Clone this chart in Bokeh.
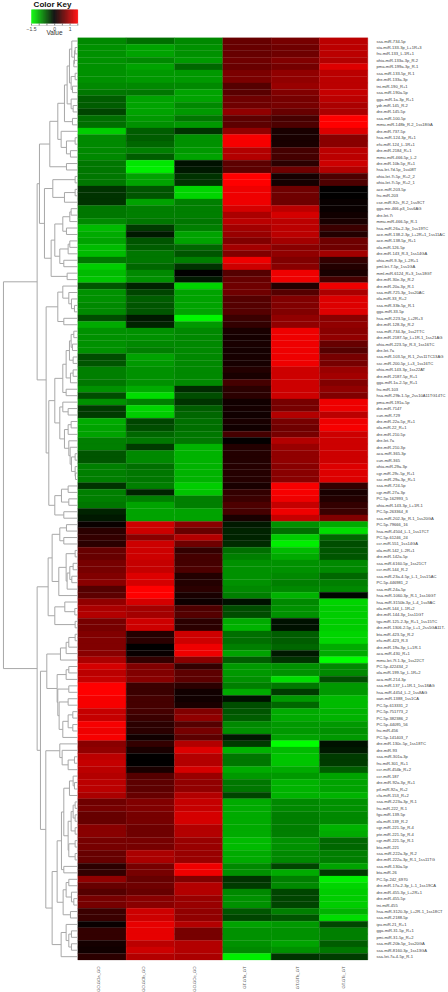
from bokeh.plotting import figure
from bokeh.models import Range1d, ColumnDataSource, LinearColorMapper
from bokeh.transform import transform
from bokeh.core.properties import value
from bokeh.embed import file_html
from bokeh.resources import INLINE

row_labels = """ssa-miR-734-5p
sta-miR-133-3p_L+1R+3
fru-miR-133_L-1R+1
ohia-miR-133a-3p_R-2
pma-miR-199a-3p_R-1
ssa-miR-133-5p_R-1
dre-miR-133a-3p
tni-miR-190_R+1
ssa-miR-190a-5p
gga-miR-1a-3p_R+1
ydr-miR-145_R-2
dre-miR-145-5p
ssa-miR-100-5p
mmu-miR-148b_R-2_1ss18GA
dre-miR-737-5p
hsa-miR-124-3p_R+1
efu-miR-124_L-1R+1
dre-miR-2184_R+1
mmu-miR-466-5p_L-2
dre-miR-10b-5p_R+1
hsa-let-7d-5p_1ss08T
ohia-let-7i-5p_R+2_2
ohia-let-7i-5p_R+2_1
ace-miR-203-5p
fru-miR-203
cse-miR-92c_R-2_1ss9CT
gga-mir-466-p3_1ss6AG
dre-let-7i
mmu-miR-466-5p_R-1
hsa-miR-26a-2-3p_1ss19TC
ace-miR-138-2-3p_L+2R+1_1ss11AC
ace-miR-138-5p_R+1
ola-miR-126-5p
dre-miR-143_R-3_1ss14GA
ohia-miR-9-3p_L-2R+1
pml-let-7-5p_1ss1GA
mml-miR-6124_R+3_1ss18GT
dre-miR-30e-3p_R-2
dre-miR-20a-3p_R-1
ssa-miR-725-3p_1ss20AC
ola-miR-33_R+2
ssa-miR-33b-5p_R-1
gga-miR-33-5p
hsa-miR-223-5p_L+2R+3
dre-miR-128-3p_R-2
ssa-miR-734-3p_1ss2TTC
dre-miR-2187-5p_L+1R-1_1ss21AG
ohia-miR-223-5p_R-3_1ss16TC
dre-let-7a
ssa-miR-103-5p_R-1_2ss11TC13AG
ssc-miR-200-5p_L+3_1ss16TC
ohia-miR-143-3p_1ss22AT
dre-miR-2187-5p_R+1
gga-miR-1a-2-5p_R+1
fru-miR-103
hsa-miR-29b-1-5p_2ss10A11TG14TC
pma-miR-191a-5p
dre-miR-7147
cun-miR-729
dre-miR-22a-5p_R+1
ola-miR-22_R+1
dre-miR-210-5p
dre-let-7a
dre-miR-210-3p
aca-miR-365-3p
cun-miR-365
ohia-miR-29a-3p
cgr-miR-29c-5p_R+1
ssc-miR-29a-3p_R+1
ssa-miR-724-5p
cgr-miR-27a-3p
PC-5p-162993_5
ohia-miR-143-3p_L+1R-1
PC-5p-263364_8
ssa-miR-202-3p_R-1_1ss20GA
PC-5p-79666_16
hsa-miR-4504_L-1_1ss17CT
PC-5p-61246_24
ccr-miR-551_1ss14GA
ola-miR-142_L-2R+1
dre-miR-142a-5p
ssa-miR-6160-5p_1ss21CT
ccr-miR-144_R-2
ssa-miR-23a-4-5p_L-1_1ss15AC
PC-5p-446981_2
ssa-miR-24a-5p
hsa-miR-1060-3p_R-1_1ss16GT
hsa-miR-3150b-3p_L-4_1ss9AC
ola-miR-144_L-1R+2
dre-miR-144-3p_1ss11GT
tgu-miR-125-2-3p_R+1_1ss15TC
dre-miR-1306-2-5p_L+1_2ss5GA11T-
bta-miR-423-5p_R-2
efu-miR-423_R-3
dre-miR-19a-3p_L+1R-1
aca-miR-430_R+1
mmu-let-7f-1-3p_1ss22CT
PC-5p-422434_2
ola-miR-199-5p_L-1R+2
aca-miR-214-3p
ssa-miR-137_L+1R-1_1ss18AG
hsa-miR-4454_L-2_1ss8AG
oan-miR-1388_1ss1CA
PC-5p-613331_2
PC-5p-751773_2
PC-5p-382386_2
PC-5p-44095_56
fru-miR-456
PC-5p-141403_7
dre-miR-130c-5p_1ss18TC
dre-miR-93
ssa-miR-301a-3p
fru-miR-301_R+1
ccr-miR-454b_R+2
ccr-miR-187
dre-miR-92a-3p_R+1
ptl-miR-92a_R+2
cfa-miR-153_R+2
ssa-miR-223a-3p_R-1
fru-miR-222_R-1
fgu-miR-139-5p
ola-miR-139_R-2
cgr-miR-221-5p_R-4
pte-miR-221-5p_R-4
cgr-miR-221-5p_R-1
bta-miR-221
ssa-miR-222a-3p_R-2
dre-miR-222a-3p_R-1_1ss11TG
ssa-miR-130a-5p
bta-miR-26
PC-5p-242_6970
dre-miR-17a-2-3p_L-1_1ss19CA
dre-miR-455-3p_L+2R+1
dre-miR-455-5p
tni-miR-455
hsa-miR-3120-3p_L+2R-1_1ss18CT
ssa-miR-2188-5p
ipu-miR-21_R+1
gga-miR-31-5p_R+1
pmi-miR-31-5p_R+2
ssa-miR-20b-5p_1ss20GA
ssa-miR-8160-3p_1ss13GA
ssa-let-7a-4-5p_R-1""".split("\n")

sample_labels = ["GO.GOa_GO", "GO.GOb_GO", "GO.GOc_GO", "GT.GTa_GT", "GT.GTb_GT", "GT.GTc_GT"]
sample_label_px = [98, 143, 194, 244, 297, 343]

expression = [
[-.8,-.65,-.8,.6,.7,1.1],[-.85,-.95,-.85,.6,.65,1.1],[-.85,-.95,-.85,.6,.65,1.1],[-.85,-.8,-.9,.65,.75,1.05],
[-.85,-.95,-.6,.62,.68,1.3],[-.85,-.9,-.9,.72,.85,1.1],[-.85,-.9,-.9,.72,.85,1.1],[-.8,-.8,-.8,.5,.9,1.1],
[-.7,-.7,-.95,.52,.75,1.15],[-.55,-.95,-.95,.65,.7,1.1],[-.55,-.95,-.8,.65,.7,1.0],[-.4,-.95,-.9,.85,.6,1.0],
[-.65,-.9,-.7,.55,.42,1.5],[-.65,-.85,-.9,.55,.45,1.5],[-1.2,-.55,-.3,.85,.15,1.3],[-.8,-.55,-.85,1.45,.15,.8],
[-.8,-.6,-.85,1.45,.15,.8],[-.8,-.75,-.9,1.05,.4,1.1],[-.8,-.55,-.95,1.05,.4,1.1],[-.7,-1.35,-.1,.55,.25,1.2],
[-.7,-1.4,-.15,.55,.65,1.05],[-.7,-.95,-.3,1.5,.12,.45],[-.7,-.95,-.3,1.5,.12,.45],[-.3,-.5,-1.25,1.4,.65,.0],
[-.3,-.5,-1.25,1.4,.65,.0],[-.3,-.95,-.75,1.4,.65,.05],[-.7,-.75,-.75,1.25,1.1,.05],[-.7,-.75,-.75,1.0,1.25,.1],
[-.8,-.7,-.7,1.1,1.1,.15],[-1.1,-.35,-.75,.95,1.1,.35],[-1.0,-.15,-.95,.9,1.1,.2],[-.95,-.5,-.95,.75,.95,.65],
[-1.1,-.55,-.6,.95,.8,.65],[-1.1,-.7,-.5,.75,.85,.95],[-.7,-.7,-.75,1.4,.75,.3],[-1.2,-.6,-.3,1.2,.8,.2],
[-1.1,-.8,0,.5,1.4,.15],[-1.15,-.85,-.15,.6,1.4,.4],[-.5,-.2,-1.25,.65,.2,1.4],[-.85,-.4,-.95,.65,.5,1.0],
[-.85,-.55,-.95,.5,.75,1.3],[-.8,-.5,-.95,.5,.75,1.3],[-.8,-.5,-.95,.5,.75,1.3],[-.45,-.15,-1.45,.35,.85,.8],
[-1.0,-.2,-.9,.3,.85,.85],[-.85,-.85,-.8,.15,1.4,.8],[-.85,-.85,-.8,.12,1.4,.85],[-.85,-.8,-.8,.15,1.4,.6],
[-.85,-.75,-.8,.12,1.4,.5],[-.45,-.95,-.8,.13,1.4,.7],[-.5,-.9,-.8,.13,1.4,.7],[-.75,-.85,-.8,.2,1.2,.9],
[-.75,-.85,-.8,.15,1.2,.95],[-.7,-.85,-.8,.4,1.2,.75],[-.85,-1.0,-.25,.25,1.2,.85],[-.45,-1.3,-.45,.25,1.2,.75],
[-.85,-.75,-.3,.1,.7,1.4],[-.35,-1.25,-.55,.12,.7,1.4],[-.35,-1.2,-.6,.1,1.05,1.1],[-1.0,-.4,-.65,.15,.7,1.4],
[-.95,-.45,-.65,.1,.65,1.45],[-.95,-.6,-.7,.4,.7,1.2],[-.75,-.7,-.7,.02,1.05,1.2],[-.75,-.35,-1.05,.2,.9,1.2],
[-.5,-.8,-1.05,.2,.85,1.2],[-.5,-.8,-1.05,.2,.85,1.2],[-.75,-.65,-1.05,.22,.8,1.3],[-.75,-.7,-1.05,.22,.8,1.3],
[-.75,-.7,-1.05,.22,.8,1.3],[-.3,-.75,-1.2,.15,1.45,.3],[-.75,-.2,-1.15,.3,1.45,.15],[-.75,-.75,-.75,.35,1.4,.2],
[-.7,-.95,-.75,.45,1.15,.3],[-.2,-.95,-.95,.4,1.4,.35],[-.15,-.95,-.95,.15,1.15,.75],[.05,1.2,.8,-.15,-.85,-1.0],
[.25,1.2,.6,-.2,-.65,-1.3],[.3,.8,1.05,-.2,-1.2,-.6],[.25,1.2,.65,-.25,-1.4,-.45],[.6,1.2,.3,-.65,-1.1,-.5],
[.6,1.2,.4,-.75,-1.0,-.5],[.7,1.15,.4,-.85,-.85,-.8],[.7,1.15,.45,-.85,-.85,-.8],[.75,1.3,.2,-.85,-.8,-.6],
[.8,1.25,.2,-.85,-.75,-.75],[.5,1.5,.25,-.8,-.8,-.8],[.55,1.5,.15,-.75,-1.05,-.05],[.85,1.25,.08,-.1,-.8,-1.25],
[1.0,.95,.45,-.45,-.85,-1.2],[1.05,.95,.5,-.45,-.85,-1.2],[.7,1.2,.25,-1.0,-.1,-1.2],[.7,1.2,.25,-1.05,-.1,-1.2],
[.75,.2,1.2,-.65,-.55,-1.25],[.75,.25,1.2,-.65,-.55,-1.25],[.75,.0,1.4,-.75,-.6,-1.0],[.8,.05,1.4,-.95,-.15,-1.0],
[1.0,.3,.8,-.55,-.3,-1.5],[1.25,.75,.3,-.9,-.85,-.8],[1.1,.75,.55,-.9,-.85,-.8],[1.15,.8,.55,-.85,-1.3,-.45],
[1.5,.35,.25,-.75,-.7,-.9],[1.5,.35,.1,-1.0,-.35,-.9],[1.45,.4,.1,-.1,-.9,-1.1],[1.45,.4,.15,-.45,-.6,-1.1],
[1.15,.4,.75,-.5,-1.0,-1.05],[1.15,.35,.85,-.55,-1.0,-1.05],[1.45,.25,.5,-.8,-.9,-.9],[1.4,.25,.7,-.85,-.9,-.85],
[1.45,.1,.55,-.15,-.95,-.9],[.8,.3,1.05,-.35,-1.5,-.1],[.85,.15,1.3,-1.05,-1.1,-.15],[1.1,.0,1.05,-.7,-1.15,-.35],
[1.15,.0,1.05,-.7,-1.15,-.35],[1.1,.15,1.25,-1.0,-1.0,-.55],[1.05,.5,.9,-.9,-.9,-.95],[1.1,.55,.85,-.7,-1.05,-.95],
[1.1,.55,.85,-.7,-1.05,-.95],[1.0,.6,1.05,-.4,-1.05,-1.05],[.65,.75,1.15,-1.0,-.8,-.85],[.7,.75,1.15,-1.0,-.8,-.85],
[.6,.7,1.25,-1.0,-.75,-.8],[.6,.7,1.25,-1.0,-.75,-.8],[.8,.65,1.05,-1.0,-.75,-1.05],[.8,.65,1.05,-1.0,-.75,-1.0],
[.7,.7,.9,-1.1,-.85,-.6],[.7,.7,.9,-1.1,-.85,-.6],[.6,1.0,.9,-1.0,-.8,-.75],[.6,1.0,.9,-1.0,-.8,-.75],
[.25,.7,1.4,-.8,-.4,-.95],[.3,.7,1.4,-.85,-1.0,-.35],[.85,.6,.75,-.3,-.75,-1.4],[.6,.65,1.05,-.35,-.8,-1.25],
[.5,.6,1.05,-.8,-.4,-1.2],[.7,.8,.9,-.85,-.4,-1.2],[.7,.8,.9,-.85,-.4,-1.2],[.35,1.2,.85,-.5,-.75,-1.05],
[.35,1.2,.85,-.4,-.5,-1.3],[.05,1.35,1.05,-.95,-.9,-.4],[.3,1.35,.7,-.85,-.85,-.75],[.3,1.35,.7,-.85,-.85,-.75],
[.12,1.1,1.05,-.85,-.95,-.55],[.1,1.2,1.05,-.8,-.85,-.7],[.25,1.05,1.0,-1.4,-.3,-.35],
]

# Dendrogram as merges: (branch height, upper child, lower child); integers are row numbers.
upper_a = (18, 1, (10, (8, 2, 3), (12, 4, 5)))
upper_b = (20, (8, 6, 7), (16, 8, 9))
upper_e = (32, (25, upper_a, upper_b), (20, 10, (14, 11, 12)))
upper_f = (40, upper_e, (16, 13, 14))
upper_g = (50, 15, (34, (8, 16, 17), (22, 18, 19)))
upper_j = (84, (60, upper_f, upper_g), (34, 20, 21))
upper_k = (75, (8, 22, 23), (40, (8, 24, 25), 26))
upper_l1 = (45, (24, (20, 27, 28), 29), (34, 30, 31))
upper_l2 = (54, (29, (24, 32, 33), 34), (42, 35, 36))
upper_m = (80, (69, upper_l1, upper_l2), (32, 37, 38))
upper_o = (115, upper_j, (100, upper_k, upper_m))
upper_r = (60, (45, 39, (27, 40, (19, 41, (10, 42, 43)))), (42, 44, 45))
upper_s2 = (25, (20, (12, 46, 47), (16, 48, 49)), (14, 50, 51))
upper_s4 = (35, upper_s2, (22, (14, 52, 53), 54))
upper_s5 = (45, upper_s4, (35, 55, 56))
upper_t1 = (45, 57, (29, 58, 59))
upper_t3 = (27, 63, (23, 64, (19, (8, 65, 66), (8, 67, (7, 68, 69)))))
upper_t4 = (40, (29, (20, 60, 61), 62), upper_t3)
upper_u = (69, upper_s5, (54, upper_t1, upper_t4))
upper_v = (69, (49, (29, 70, 71), (27, 72, 73)), (42, 74, 75))
upper_q = (95, upper_r, (87, upper_u, upper_v))
upper_tree = (122, upper_o, upper_q)

lower_a1 = (54, (34, 76, 77), (42, 78, 79))
lower_a2 = (35, (8, 80, 81), (32, (24, (14, 82, 83), (18, 84, 85)), 86))
lower_c = (89, (77, lower_a1, (57, lower_a2, 87)), (69, (39, 88, (9, 89, 90)), (8, 91, 92)))
lower_c1 = (52, (35, (27, (8, 93, 94), 95), 96), 97)
lower_b1 = (60, (27, 101, 102), (56, (29, 103, 104), (45, (29, (15, 105, 106), (15, 107, 108)), 109)))
lower_cc = (93, lower_c1, (62, (35, (27, 98, 99), 100), lower_b1))
lower_e1 = (54, 110, (47, 111, (29, (10, 112, 113), 114)))
lower_g0 = (25, (14, 115, (10, 116, 117)), 118)
lower_g1 = (20, (14, (8, 119, 120), (8, 121, 122)), (8, 123, 124))
lower_g3 = (29, lower_g1, (27, (8, 125, 126), (8, 127, 128)))
lower_g5 = (49, (42, lower_g0, lower_g3), (42, 129, 130))
lower_h = (44, (35, (27, 131, 132), (19, 133, (12, 134, 135))), (22, 136, 137))
lower_i = (50, (35, 138, (27, (19, 139, 140), (19, 141, 142))), 143)
lower_z = (96, lower_e1, (77, (62, lower_g5, lower_h), lower_i))
lower_tree = (122, lower_c, (112, lower_cc, lower_z))
root = (223, upper_tree, lower_tree)

key_ticks = [-1.5, -1.0, -0.5, 0.0, 0.5, 1.0, 1.5]
key_tick_labels = {-1.5: "\u22121.5", 0.0: "0", 1.0: "1"}

W, H = 448, 992
LEFT, RIGHT, TOP, BOTTOM = 77.3, 367.3, 37.3, 959.4
nrows, ncols = len(row_labels), len(sample_labels)
cw = (RIGHT - LEFT) / ncols
rh = (BOTTOM - TOP) / nrows

# Frame covers the page; each data space gets its own range mapped on the frame.
p = figure(width=W, height=H, output_backend="svg", toolbar_location=None,
           x_axis_location=None, y_axis_location=None, min_border=0,
           x_range=Range1d(-LEFT / cw, (W - LEFT) / cw),
           y_range=Range1d((H - TOP) / rh - 0.5, -TOP / rh - 0.5))
p.grid.visible = False
p.outline_line_color = None
p.background_fill_color = "white"
p.border_fill_color = "white"
DS = 3.0
KX0, KX1 = 31.0, 77.3
ks = (KX1 - KX0) / 3.0
p.extra_x_ranges = {"dist": Range1d(LEFT * DS, (LEFT - W) * DS),
                    "key": Range1d(-1.5 - KX0 / ks, -1.5 + (W - KX0) / ks),
                    "page": Range1d(0, W)}
p.extra_y_ranges = {"page": Range1d(H, 0)}

palette = ["#%02x%02x%02x" % (0, 255 - 2 * i, 0) for i in range(128)] + \
          ["#%02x%02x%02x" % (2 * i + 1, 0, 0) for i in range(128)]
mapper = LinearColorMapper(palette=palette, low=-1.5, high=1.5)

cells = {"c": [], "r": [], "v": []}
for r, vals in enumerate(expression):
    for c, v in enumerate(vals):
        cells["c"].append(c + 0.5)
        cells["r"].append(r)
        cells["v"].append(v)
p.rect("c", "r", 1, 1, source=ColumnDataSource(cells),
       fill_color=transform("v", mapper), line_color=transform("v", mapper), line_width=0.3)

# dendrogram
segs = {"x0": [], "y0": [], "x1": [], "y1": []}
def add(x0, y0, x1, y1):
    for k, v in zip(("x0", "y0", "x1", "y1"), (x0, y0, x1, y1)):
        segs[k].append(v)
def walk(node):
    if isinstance(node, int):
        return 0, node - 1
    d, a, b = node
    da, ya = walk(a)
    db, yb = walk(b)
    add(d, ya, da, ya)
    add(d, yb, db, yb)
    add(d, ya, d, yb)
    return d, (ya + yb) / 2
walk(root)
p.segment("x0", "y0", "x1", "y1", source=ColumnDataSource(segs), x_range_name="dist",
          line_color="#a8a8a8", line_width=1.0)

# row labels
p.text([6.0 + 0.18] * nrows, list(range(nrows)), text=row_labels, text_font=value("Liberation Sans"),
       text_font_size="4.1px", text_color="#3c3c3c", text_baseline="middle", text_align="left")

# sample labels
p.text(sample_label_px, [966] * ncols, text=sample_labels, x_range_name="page", y_range_name="page",
       text_font=value("Liberation Sans"), text_font_size="4.2px", text_color="#555555",
       angle=1.5708, text_align="right", text_baseline="middle")

# colour key
key_steps = [-1.5 + 3.0 * (i + 0.5) / 64 for i in range(64)]
p.rect(key_steps, [16] * 64, width=3.0 / 64, height=13.6, x_range_name="key", y_range_name="page",
       fill_color=[palette[min(255, int((v + 1.5) / 3 * 256))] for v in key_steps],
       line_color=[palette[min(255, int((v + 1.5) / 3 * 256))] for v in key_steps], line_width=0.3)
p.segment(key_ticks, [23] * 7, key_ticks, [25] * 7, x_range_name="key", y_range_name="page",
          line_color="#555555", line_width=0.7)
p.segment([-1.5], [25], [1.5], [25], x_range_name="key", y_range_name="page",
          line_color="#aaaaaa", line_width=0.5)
p.text(list(key_tick_labels), [28] * len(key_tick_labels), text=list(key_tick_labels.values()),
       x_range_name="key", y_range_name="page", text_font=value("Liberation Sans"),
       text_font_size="5px", text_color="#444444", text_align="center", text_baseline="middle")
p.text([52], [4], text=["Color Key"], x_range_name="page", y_range_name="page",
       text_font=value("Liberation Sans"), text_font_style="bold", text_font_size="8px",
       text_color="#111111", text_align="center", text_baseline="middle")
p.text([54], [31.5], text=["Value"], x_range_name="page", y_range_name="page",
       text_font=value("Liberation Sans"), text_font_size="6.5px", text_color="#333333",
       text_align="center", text_baseline="middle")

open("out.html", "w").write(file_html(p, INLINE))
